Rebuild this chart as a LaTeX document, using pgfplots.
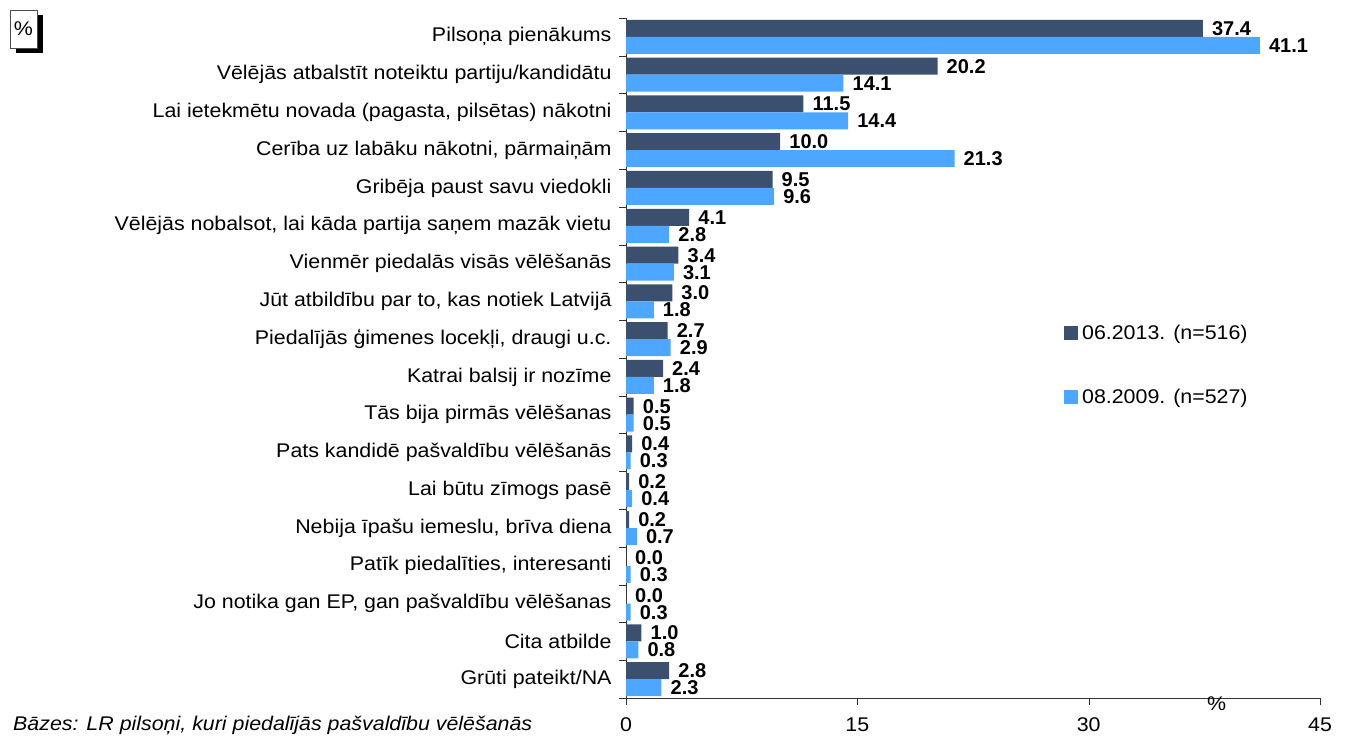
\documentclass[border=0pt]{standalone}
\usepackage{fontspec}
\setmainfont[FakeStretch=1.08]{Liberation Sans}
\newfontfamily\valfont{Liberation Sans}
\usepackage{pgfplots}
\pgfplotsset{compat=1.18}
\definecolor{darkbar}{RGB}{59,80,110}
\definecolor{lightbar}{RGB}{77,166,255}
\newcommand{\lbl}{\fontsize{19.8bp}{22bp}\selectfont}
\newcommand{\vbl}{\valfont\fontsize{20bp}{22bp}\selectfont\bfseries}
\begin{document}
\begin{tikzpicture}[x=1bp,y=1bp]
\useasboundingbox (0,0) rectangle (1347,735);
\begin{axis}[
  at={(626bp,37bp)}, anchor=south west,
  scale only axis, width=694bp, height=680bp,
  xbar, bar width=17bp,
  xmin=0, xmax=45, ymin=-0.5, ymax=17.5, y dir=reverse,
  enlargelimits=false,
  axis x line*=bottom, axis y line*=left,
  axis line style={-, draw=black!80},
  xtick={0,15,30,45},
  ytick={0,...,17},
  yticklabels={
    Pilsoņa pienākums,
    Vēlējās atbalstīt noteiktu partiju/kandidātu,
    {Lai ietekmētu novada (pagasta, pilsētas) nākotni},
    {Cerība uz labāku nākotni, pārmaiņām},
    Gribēja paust savu viedokli,
    {Vēlējās nobalsot, lai kāda partija saņem mazāk vietu},
    Vienmēr piedalās visās vēlēšanās,
    {Jūt atbildību par to, kas notiek Latvijā},
    {Piedalījās ģimenes locekļi, draugi u.c.},
    Katrai balsij ir nozīme,
    Tās bija pirmās vēlēšanas,
    Pats kandidē pašvaldību vēlēšanās,
    Lai būtu zīmogs pasē,
    {Nebija īpašu iemeslu, brīva diena},
    {Patīk piedalīties, interesanti},
    {Jo notika gan EP, gan pašvaldību vēlēšanas},
    Cita atbilde,
    Grūti pateikt/NA},
  minor ytick={-0.5,0.5,...,17.5},
  tick align=outside,
  major y tick style={draw=none},
  major x tick style={draw=black!80},
  minor y tick style={draw=black!80},
  major tick length=7bp, minor tick length=7bp,
  yticklabel style={font=\lbl, anchor=east, xshift=-4bp},
  xticklabel style={font=\lbl, yshift=-9.5bp},
  /pgf/number format/assume math mode=true,
  nodes near coords,
  nodes near coords style={font=\vbl, anchor=west, inner sep=0pt, xshift=9bp,
    text height=14bp, text depth=0bp,
    /pgf/number format/.cd, fixed, fixed zerofill, precision=1, assume math mode=true},
  legend style={draw=none, fill=none, font=\lbl, at={(0.631,0.552)}, anchor=north west,
    row sep=44bp, inner sep=0pt, cells={anchor=west}},
  legend image code/.code={\fill[#1] (0bp,-7bp) rectangle (14bp,7bp);},
  clip=false,
]
\addplot[fill=darkbar, draw=none, bar shift=8.5bp] coordinates {
(37.4,0) (20.2,1) (11.5,2) (10.0,3) (9.5,4) (4.1,5) (3.4,6) (3.0,7) (2.7,8)
(2.4,9) (0.5,10) (0.4,11) (0.2,12) (0.2,13) (0.0,14) (0.0,15) (1.0,16) (2.8,17)};
\addlegendentry{\hspace{2bp}06.2013. (n=516)}
\addplot[fill=lightbar, draw=none, bar shift=-8.5bp] coordinates {
(41.1,0) (14.1,1) (14.4,2) (21.3,3) (9.6,4) (2.8,5) (3.1,6) (1.8,7) (2.9,8)
(1.8,9) (0.5,10) (0.3,11) (0.4,12) (0.7,13) (0.3,14) (0.3,15) (0.8,16) (2.3,17)};
\addlegendentry{\hspace{2bp}08.2009. (n=527)}
\node[font=\lbl, anchor=north, inner sep=0pt] at (axis cs:38.3,17.5) [yshift=1bp] {\%};
\end{axis}
\fill[black] (16,682) rectangle (43,720);
\draw[black!70, fill=white] (10,687) rectangle (37,725);
\node[font=\lbl] at (23.5,706) {\%};
\node[font=\lbl\itshape, anchor=base west, inner sep=0pt] at (13,5) {Bāzes: LR pilsoņi, kuri piedalījās pašvaldību vēlēšanās};
\end{tikzpicture}
\end{document}
